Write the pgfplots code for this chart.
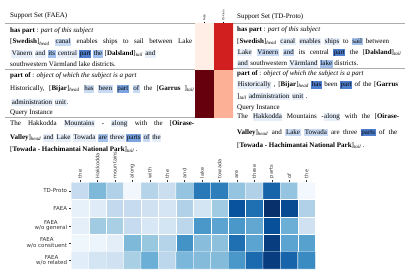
\documentclass[border=0pt]{standalone}
\usepackage{fontspec}
\setmainfont{Liberation Serif}
\setsansfont{DejaVu Sans}
\usepackage{xcolor}
\usepackage{pgfplots}
\pgfplotsset{compat=1.18}
\definecolor{hlA}{HTML}{E6EEFA}
\definecolor{hlB}{HTML}{C9DBF4}
\definecolor{hlC}{HTML}{A3C1EC}
\definecolor{hlD}{HTML}{7AA3E0}
\definecolor{hlE}{HTML}{4F7FCC}
\newcommand{\tf}{\fontsize{7}{8}\selectfont}
\newcommand{\hl}[2]{{\setlength{\fboxsep}{0.6pt}\colorbox{#1}{\rule[-1.8pt]{0pt}{6.6pt}#2}}}
\newcommand{\Hd}{\textsubscript{\textit{head}}}
\newcommand{\Tl}{\textsubscript{\textit{tail}}}
\newcommand{\txt}[3]{\node[anchor=base west,inner sep=0pt,font=\tf] at (#1pt,-#2pt) {#3};}
\newcommand{\jtxt}[4]{\node[anchor=base west,inner sep=0pt,font=\tf] at (#1pt,-#2pt) {\makebox[#3pt][s]{#4}};}
\pgfplotsset{
  colormap={blues}{rgb255=(247,251,255) rgb255=(222,235,247) rgb255=(198,219,239) rgb255=(158,202,225) rgb255=(107,174,214) rgb255=(66,146,198) rgb255=(33,113,181) rgb255=(8,81,156) rgb255=(8,48,107)},
  colormap={reds}{rgb255=(255,245,240) rgb255=(254,224,210) rgb255=(252,187,161) rgb255=(252,146,114) rgb255=(251,106,74) rgb255=(239,59,44) rgb255=(203,24,29) rgb255=(165,15,21) rgb255=(103,0,13)},
}
\begin{document}
\begin{tikzpicture}
\path[use as bounding box] (0pt,0pt) rectangle (408pt,-273pt);
% ---------- left panel ----------
\txt{10}{17.5}{Support Set (FAEA)}
\draw[gray!65,line width=0.8pt] (5pt,-23pt) -- (195pt,-23pt);
\txt{10}{32}{\textbf{has part} : \textit{part of this subject}}
\jtxt{10}{44}{182}{[\textbf{Swedish}]\Hd{} \hl{hlB}{canal} enables ships to sail between Lake}
\txt{11}{55.5}{\hl{hlA}{Vänern} \hl{hlA}{and} \hl{hlC}{its} \hl{hlA}{central} \hl{hlE}{part} \hl{hlC}{the} [\textbf{Dalsland}]\Tl{} \hl{hlA}{and}}
\txt{10}{66.5}{southwestern Värmland lake districts.}
\draw[gray!65,line width=0.8pt] (5pt,-69pt) -- (195pt,-69pt);
\txt{10}{77.5}{\textbf{part of} : \textit{object of which the subject is a part}}
\jtxt{10}{90.5}{184}{Historically, [\textbf{Bijar}]\Hd{} \hl{hlB}{has} \hl{hlB}{been} \hl{hlD}{part} \hl{hlB}{of} the [\textbf{Garrus} ]\Tl}
\txt{11}{104}{\hl{hlA}{administration} \hl{hlA}{unit}.}
\txt{10}{114.5}{Query Instance}
\draw[gray!65,line width=0.8pt] (5pt,-117.5pt) -- (195pt,-117.5pt);
\jtxt{10}{125}{184}{The Hakkodda \hl{hlA}{Mountains} - \hl{hlA}{along} with the [\textbf{Oirase-}}
\txt{10}{139.5}{\textbf{Valley}]\Hd{} \hl{hlA}{and} \hl{hlA}{Lake} \hl{hlA}{Towada} \hl{hlC}{are} \hl{hlA}{three} \hl{hlD}{parts} \hl{hlB}{of} \hl{hlA}{the}}
\txt{10}{151}{[\textbf{Towada - Hachimantai National Park}]\Tl{} .}
% ---------- right panel ----------
\txt{237}{18}{Support Set (TD-Proto)}
\draw[gray!65,line width=0.8pt] (233pt,-23pt) -- (405pt,-23pt);
\txt{237}{31.5}{\textbf{has part} : \textit{part of this subject}}
\jtxt{237}{43}{152}{[\textbf{Swedish}]\Hd{} \hl{hlA}{canal} \hl{hlA}{enables} \hl{hlA}{ships} to \hl{hlC}{sail} between}
\jtxt{237}{54}{164}{\hl{hlA}{Lake} \hl{hlB}{Vänern} \hl{hlB}{and} its central \hl{hlE}{part} the [\textbf{Dalsland}]\Tl}
\txt{237}{65.5}{\hl{hlA}{and} southwestern \hl{hlA}{Värmland} \hl{hlC}{lake} districts.}
\draw[gray!65,line width=0.8pt] (233pt,-68pt) -- (405pt,-68pt);
\txt{237}{75.5}{\textbf{part of} : \textit{object of which the subject is a part}}
\jtxt{237}{86.5}{161}{\hl{hlA}{Historically} , [\textbf{Bijar}]\Hd{} \hl{hlE}{has} been \hl{hlE}{part} of the [\textbf{Garrus}}
\txt{237}{98}{]\Tl{} \hl{hlA}{administration} \hl{hlA}{unit} .}
\txt{237}{109}{Query Instance}
\jtxt{237}{118.5}{162}{The \hl{hlA}{Hakkodda} Mountains -\hl{hlA}{along} with the [\textbf{Oirase-}}
\jtxt{237}{134}{160}{\textbf{Valley}]\Hd{} and \hl{hlB}{Lake} \hl{hlB}{Towada} are three \hl{hlE}{parts} of the}
\txt{237}{147.5}{[\textbf{Towada - Hachimantai National Park}]\Tl{} .}
% ---------- red heatmap ----------
\begin{axis}[at={(195pt,-23pt)},anchor=north west,scale only axis,width=38pt,height=94pt,
  xmin=-0.5,xmax=1.5,ymin=-0.5,ymax=1.5,y dir=reverse,
  axis line style={draw=none},colormap name=reds,point meta min=0,point meta max=1,
  xtick={0,1},xticklabels={FAEA,TD-Proto},xtick pos=right,xticklabel pos=right,
  ytick=\empty,major tick length=1.5pt,tick align=outside,tick style={black,very thin},
  x tick label style={rotate=90,anchor=west,font=\sffamily\fontsize{2.5}{3}\selectfont,inner sep=0.5pt}]
\addplot[matrix plot*,mesh/cols=2,point meta=explicit] table[meta=c] {
x y c
0 0 0.04
1 0 0.73
0 1 1.00
1 1 0.28
};
\end{axis}
% ---------- blue heatmap ----------
\begin{axis}[at={(71.3pt,-182.3pt)},anchor=north west,scale only axis,width=244pt,height=86.7pt,
  xmin=-0.5,xmax=13.5,ymin=-0.5,ymax=4.5,y dir=reverse,
  axis line style={draw=none},colormap name=blues,point meta min=0,point meta max=1,
  xtick={0,...,13},xticklabels={the,Hakkodda,mountains,along,with,the,and,lake,towada,are,three,parts,of,the},
  xtick pos=right,xticklabel pos=right,
  ytick={0,...,4},yticklabels={TD-Proto,FAEA,{FAEA\\w/o general},{FAEA\\w/o consituent},{FAEA\\w/o related}},
  ytick pos=left,
  major tick length=2.5pt,tick align=outside,tick style={black!80,very thin},
  x tick label style={rotate=90,anchor=west,font=\sffamily\fontsize{5}{5}\selectfont,inner sep=1.5pt,text=black!80},
  y tick label style={align=center,font=\sffamily\fontsize{5.5}{5.8}\selectfont,inner sep=1.5pt,text=black!80}]
\addplot[matrix plot*,mesh/cols=14,point meta=explicit,draw=white,line width=0.3pt] table[meta=c] {
x y c
0 0 0.25
1 0 0.45
2 0 0.32
3 0 0.03
4 0 0.30
5 0 0.23
6 0 0.40
7 0 0.72
8 0 0.70
9 0 0.40
10 0 0.32
11 0 0.80
12 0 0.40
13 0 0.02
0 1 0.08
1 1 0.12
2 1 0.26
3 1 0.25
4 1 0.20
5 1 0.17
6 1 0.32
7 1 0.18
8 1 0.37
9 1 0.87
10 1 0.76
11 1 1.00
12 1 0.90
13 1 0.32
0 2 0.09
1 2 0.37
2 2 0.34
3 2 0.25
4 2 0.16
5 2 0.18
6 2 0.28
7 2 0.60
8 2 0.55
9 2 0.60
10 2 0.53
11 2 0.88
12 2 0.50
13 2 0.20
0 3 0.04
1 3 0.05
2 3 0.10
3 3 0.45
4 3 0.39
5 3 0.30
6 3 0.62
7 3 0.43
8 3 0.42
9 3 0.76
10 3 0.55
11 3 0.95
12 3 0.55
13 3 0.56
0 4 0.11
1 4 0.18
2 4 0.20
3 4 0.34
4 4 0.50
5 4 0.28
6 4 0.46
7 4 0.44
8 4 0.44
9 4 0.60
10 4 0.78
11 4 0.95
12 4 0.80
13 4 0.65
};
\end{axis}
\end{tikzpicture}
\end{document}
